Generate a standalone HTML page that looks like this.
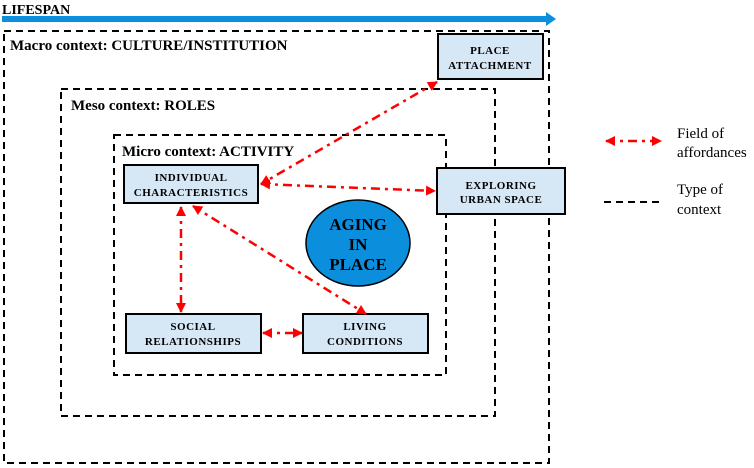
<!DOCTYPE html>
<html><head><meta charset="utf-8"><style>
html,body{margin:0;padding:0;background:#fff;}
svg{display:block;}
text{font-family:"Liberation Serif",serif;}
</style></head><body>
<svg width="754" height="468" viewBox="0 0 754 468" xmlns="http://www.w3.org/2000/svg">
<defs>
<marker id="ah" markerWidth="10" markerHeight="10" refX="9" refY="5" orient="auto-start-reverse" markerUnits="userSpaceOnUse">
<path d="M0,0 L10,5 L0,10 Z" fill="#ff0000"/>
</marker>
</defs>
<text x="2" y="14" font-size="14" font-weight="bold">LIFESPAN</text>
<line x1="2" y1="19" x2="548" y2="19" stroke="#0b8fdc" stroke-width="6"/>
<path d="M546,12 L556,19 L546,26 Z" fill="#0b8fdc"/>
<g fill="none" stroke="#000" stroke-width="2" stroke-dasharray="7,5">
<rect x="4" y="31" width="545" height="432"/>
<rect x="61" y="89" width="434" height="327"/>
<rect x="114" y="135" width="332" height="240"/>
</g>
<text x="10" y="50" font-size="15" font-weight="bold">Macro context: CULTURE/INSTITUTION</text>
<text x="71" y="110" font-size="15" font-weight="bold">Meso context: ROLES</text>
<text x="122" y="156" font-size="15" font-weight="bold">Micro context: ACTIVITY</text>
<g fill="#d6e7f6" stroke="#000" stroke-width="2">
<rect x="438" y="34" width="105" height="45"/>
<rect x="124" y="165" width="134" height="38"/>
<rect x="437" y="168" width="128" height="46"/>
<rect x="126" y="314" width="135" height="39"/>
<rect x="303" y="314" width="125" height="39"/>
</g>
<ellipse cx="358" cy="243" rx="52" ry="43" fill="#0b8fdc" stroke="#000" stroke-width="1.5"/>
<g font-size="11" font-weight="bold" text-anchor="middle" letter-spacing="0.5">
<text x="490" y="54">PLACE</text><text x="490" y="69">ATTACHMENT</text>
<text x="191" y="181">INDIVIDUAL</text><text x="191" y="196">CHARACTERISTICS</text>
<text x="501" y="189">EXPLORING</text><text x="501" y="203">URBAN SPACE</text>
<text x="193" y="330">SOCIAL</text><text x="193" y="345">RELATIONSHIPS</text>
<text x="365" y="330">LIVING</text><text x="365" y="345">CONDITIONS</text>
</g>
<g font-size="17" font-weight="bold" text-anchor="middle">
<text x="358" y="230">AGING</text><text x="358" y="250">IN</text><text x="358" y="270">PLACE</text>
</g>
<g stroke="#ff0000" stroke-width="2.5" fill="none" stroke-dasharray="9,5,3,5" marker-start="url(#ah)" marker-end="url(#ah)">
<line x1="437" y1="82" x2="261" y2="184"/>
<line x1="261" y1="184" x2="435" y2="191"/>
<line x1="181" y1="207" x2="181" y2="312"/>
<line x1="193" y1="206" x2="366" y2="314"/>
<line x1="263" y1="333" x2="302" y2="333"/>
<line x1="606" y1="141" x2="661" y2="141"/>
</g>
<line x1="604" y1="202" x2="660" y2="202" stroke="#000" stroke-width="2" stroke-dasharray="7,5"/>
<g font-size="15">
<text x="677" y="138">Field of</text><text x="677" y="157">affordances</text>
<text x="677" y="194">Type of</text><text x="677" y="214">context</text>
</g>
</svg>
</body></html>
